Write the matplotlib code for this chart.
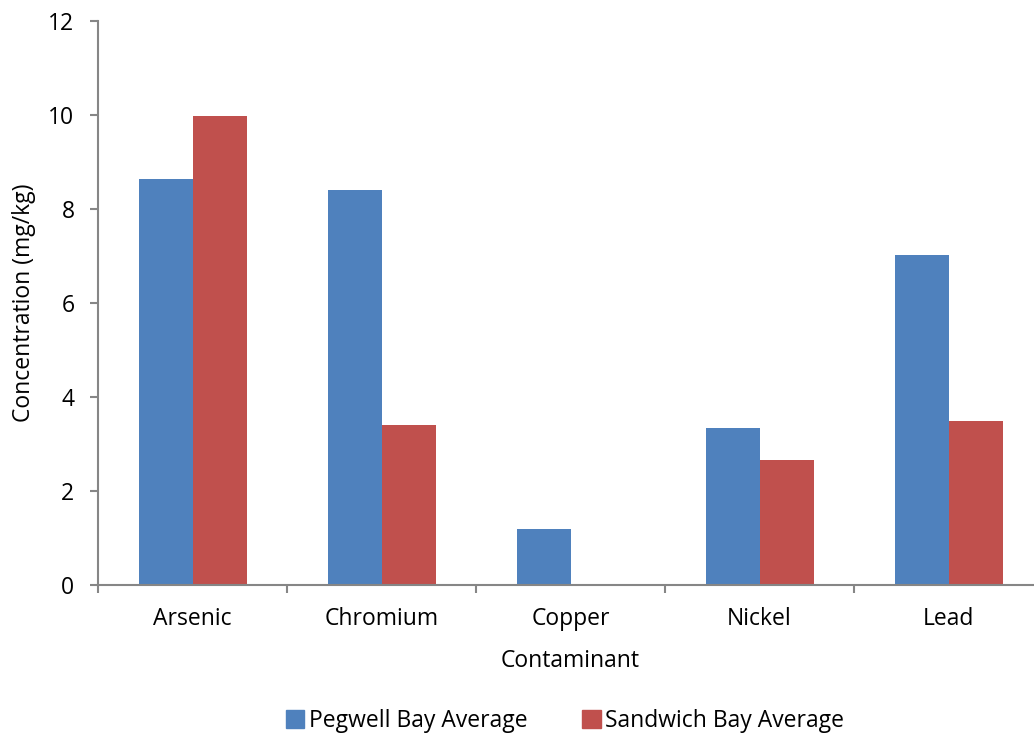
import numpy as np
import matplotlib
matplotlib.use("Agg")
import matplotlib.pyplot as plt
from matplotlib.patches import Patch

# average contaminant concentrations by site
contaminants = ["Arsenic", "Chromium", "Copper", "Nickel", "Lead"]
pegwell = [8.64, 8.40, 1.19, 3.34, 7.02]
sandwich = [9.98, 3.40, 0.0, 2.66, 3.49]
series_names = ["Pegwell Bay Average", "Sandwich Bay Average"]

BLUE = "#4F81BD"
RED = "#C0504D"
GREY = "#868686"
FS = 16.5

plt.rcParams["font.family"] = ["Open Sans", "DejaVu Sans"]

fig = plt.figure(figsize=(10.34, 7.35), dpi=100)
ax = fig.add_axes([98 / 1034, 1 - 585 / 735, 945 / 1034, 564 / 735])

x = np.arange(len(contaminants))
w = 1 / 3.5
ax.bar(x - w / 2, pegwell, width=w, color=BLUE, zorder=2)
ax.bar(x + w / 2, sandwich, width=w, color=RED, zorder=2)

ax.set_xlim(-0.5, len(contaminants) - 0.5)
ax.set_ylim(0, 12)
ax.set_yticks(np.arange(0, 13, 2))
ax.set_xticks(x)
ax.set_xticklabels(contaminants)
# category boundaries carry the tick marks
ax.set_xticks(np.arange(-0.5, len(contaminants)), minor=True)
ax.tick_params(axis="x", which="major", length=0, pad=16, labelsize=FS)
ax.tick_params(axis="x", which="minor", length=6, width=1.5, color=GREY)
ax.tick_params(axis="y", length=6, width=1.5, color=GREY, labelsize=FS, pad=11)

for s in ["top", "right"]:
    ax.spines[s].set_visible(False)
for s in ["left", "bottom"]:
    ax.spines[s].set_color(GREY)
    ax.spines[s].set_linewidth(1.5)

ax.set_xlabel("Contaminant", fontsize=FS, labelpad=13)
ax.set_ylabel("Concentration (mg/kg)", fontsize=FS, labelpad=9)

handles = [Patch(color=BLUE), Patch(color=RED)]
fig.legend(handles, series_names, loc="center", bbox_to_anchor=(565 / 1034, 1 - 721 / 735),
           ncol=2, frameon=False, fontsize=FS, handlelength=0.8, handleheight=0.8,
           handletextpad=0.2, columnspacing=2.4)

fig.savefig("out.png", dpi=100)
